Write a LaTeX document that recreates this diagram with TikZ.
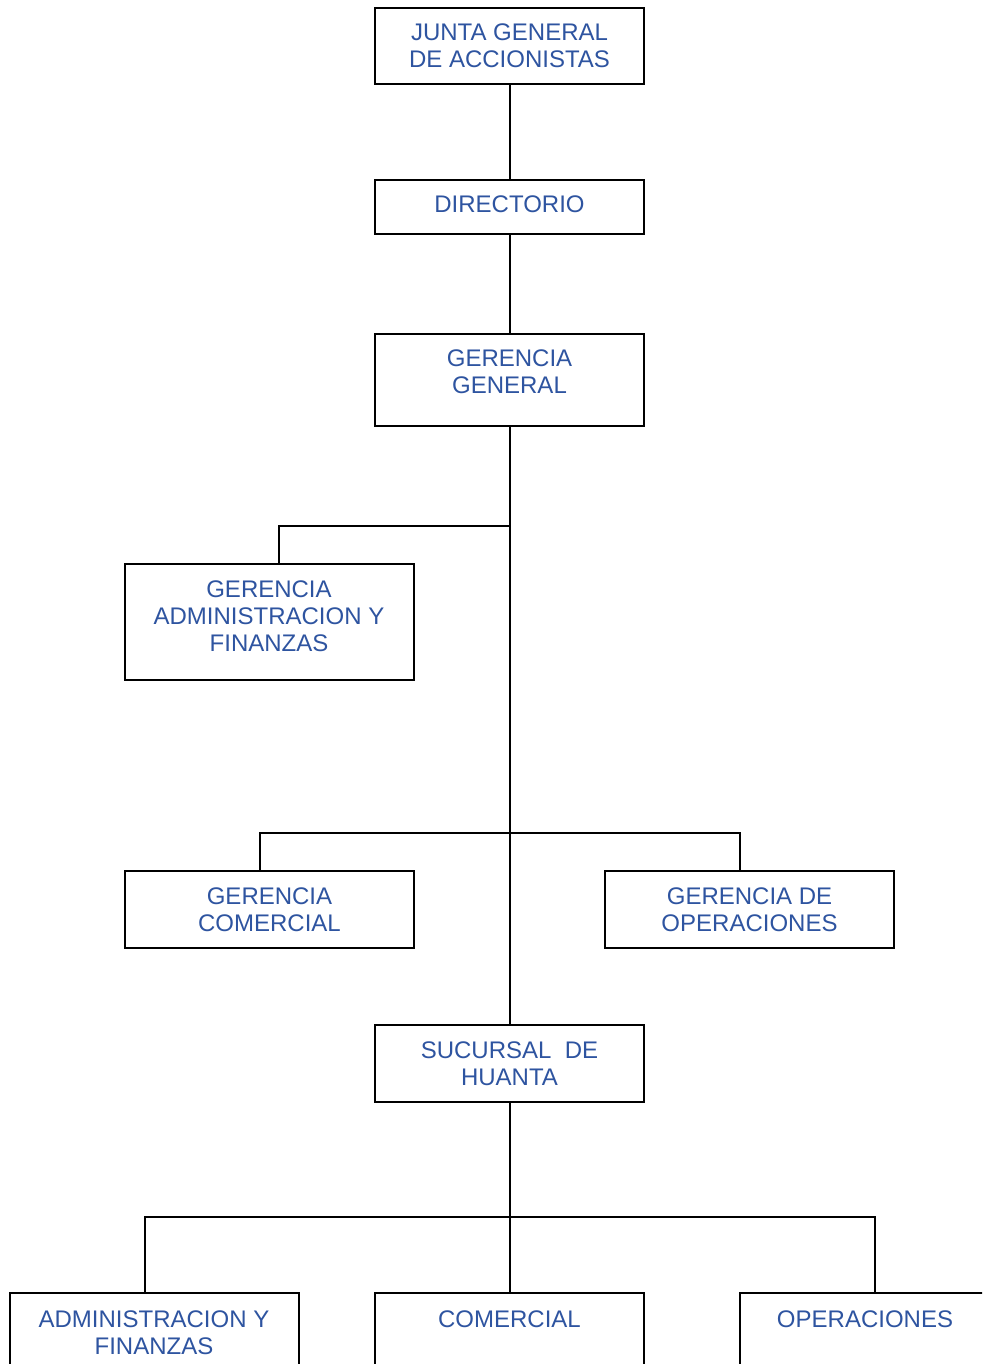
\documentclass[tikz,border=0pt]{standalone}
\usepackage{fontspec}
\setmainfont{Liberation Sans}
\usepackage{xcolor}
\definecolor{orgblue}{RGB}{46,84,160}

\begin{document}
\begin{tikzpicture}[
		x=0.5pt, y=-0.5pt,
		link/.style={draw, line width=1pt},
		box/.style={draw, line width=1pt, align=center, text=orgblue, inner sep=0pt,
			font=\fontsize{12}{13.5}\selectfont},
		narrow/.style={box, minimum width=134.5pt},
		wide/.style={box, minimum width=144.5pt}
	]
	\useasboundingbox (0,0) rectangle (982,1364);
	\clip (0,0) rectangle (982,1364);
	\node[narrow, minimum height=38pt] (junta) at (509.5,46) {JUNTA GENERAL\\DE ACCIONISTAS};
	\node[narrow, minimum height=27pt, text depth=3pt] (dir) at (509.5,207) {DIRECTORIO};
	\node[narrow, minimum height=46pt, text depth=7.9pt] (gg) at (509.5,380) {GERENCIA\\GENERAL};
	\node[wide, minimum height=58pt, text depth=5.4pt] (gaf) at (269,622) {GERENCIA\\ADMINISTRACION Y\\FINANZAS};
	\node[wide, minimum height=38.5pt] (gc) at (269.5,909.5) {GERENCIA\\COMERCIAL};
	\node[wide, minimum height=38.5pt] (go) at (749.5,909.5) {GERENCIA DE\\OPERACIONES};
	\node[narrow, minimum height=38.5pt] (suc) at (509.5,1063.5) {SUCURSAL~~DE\\HUANTA};
	\node[wide, minimum height=53.5pt, text depth=13.4pt] (adm) at (154,1346.5) {ADMINISTRACION Y\\FINANZAS};
	\node[narrow, minimum height=53.5pt, text depth=26.9pt] (com) at (509.5,1346.5) {COMERCIAL};
	\node[box, minimum width=125pt, minimum height=53.5pt, text depth=26.9pt] (oper) at (865,1346.5) {OPERACIONES};
	\coordinate (b1) at (509.5,526);
	\coordinate (b2) at (509.5,833);
	\coordinate (b3) at (509.5,1217);
	\draw[link] (junta) -- (dir);
	\draw[link] (dir) -- (gg);
	\draw[link] (gg) -- (suc);
	\draw[link] (b1) -| ([xshift=5pt]gaf.north);
	\draw[link] ([xshift=-5pt]gc.north) |- (b2) -| ([xshift=-5pt]go.north);
	\draw[link] (suc) -- (com);
	\draw[link] ([xshift=-4.5pt]adm.north) |- (b3) -| ([xshift=5pt]oper.north);
\end{tikzpicture}
\end{document}
